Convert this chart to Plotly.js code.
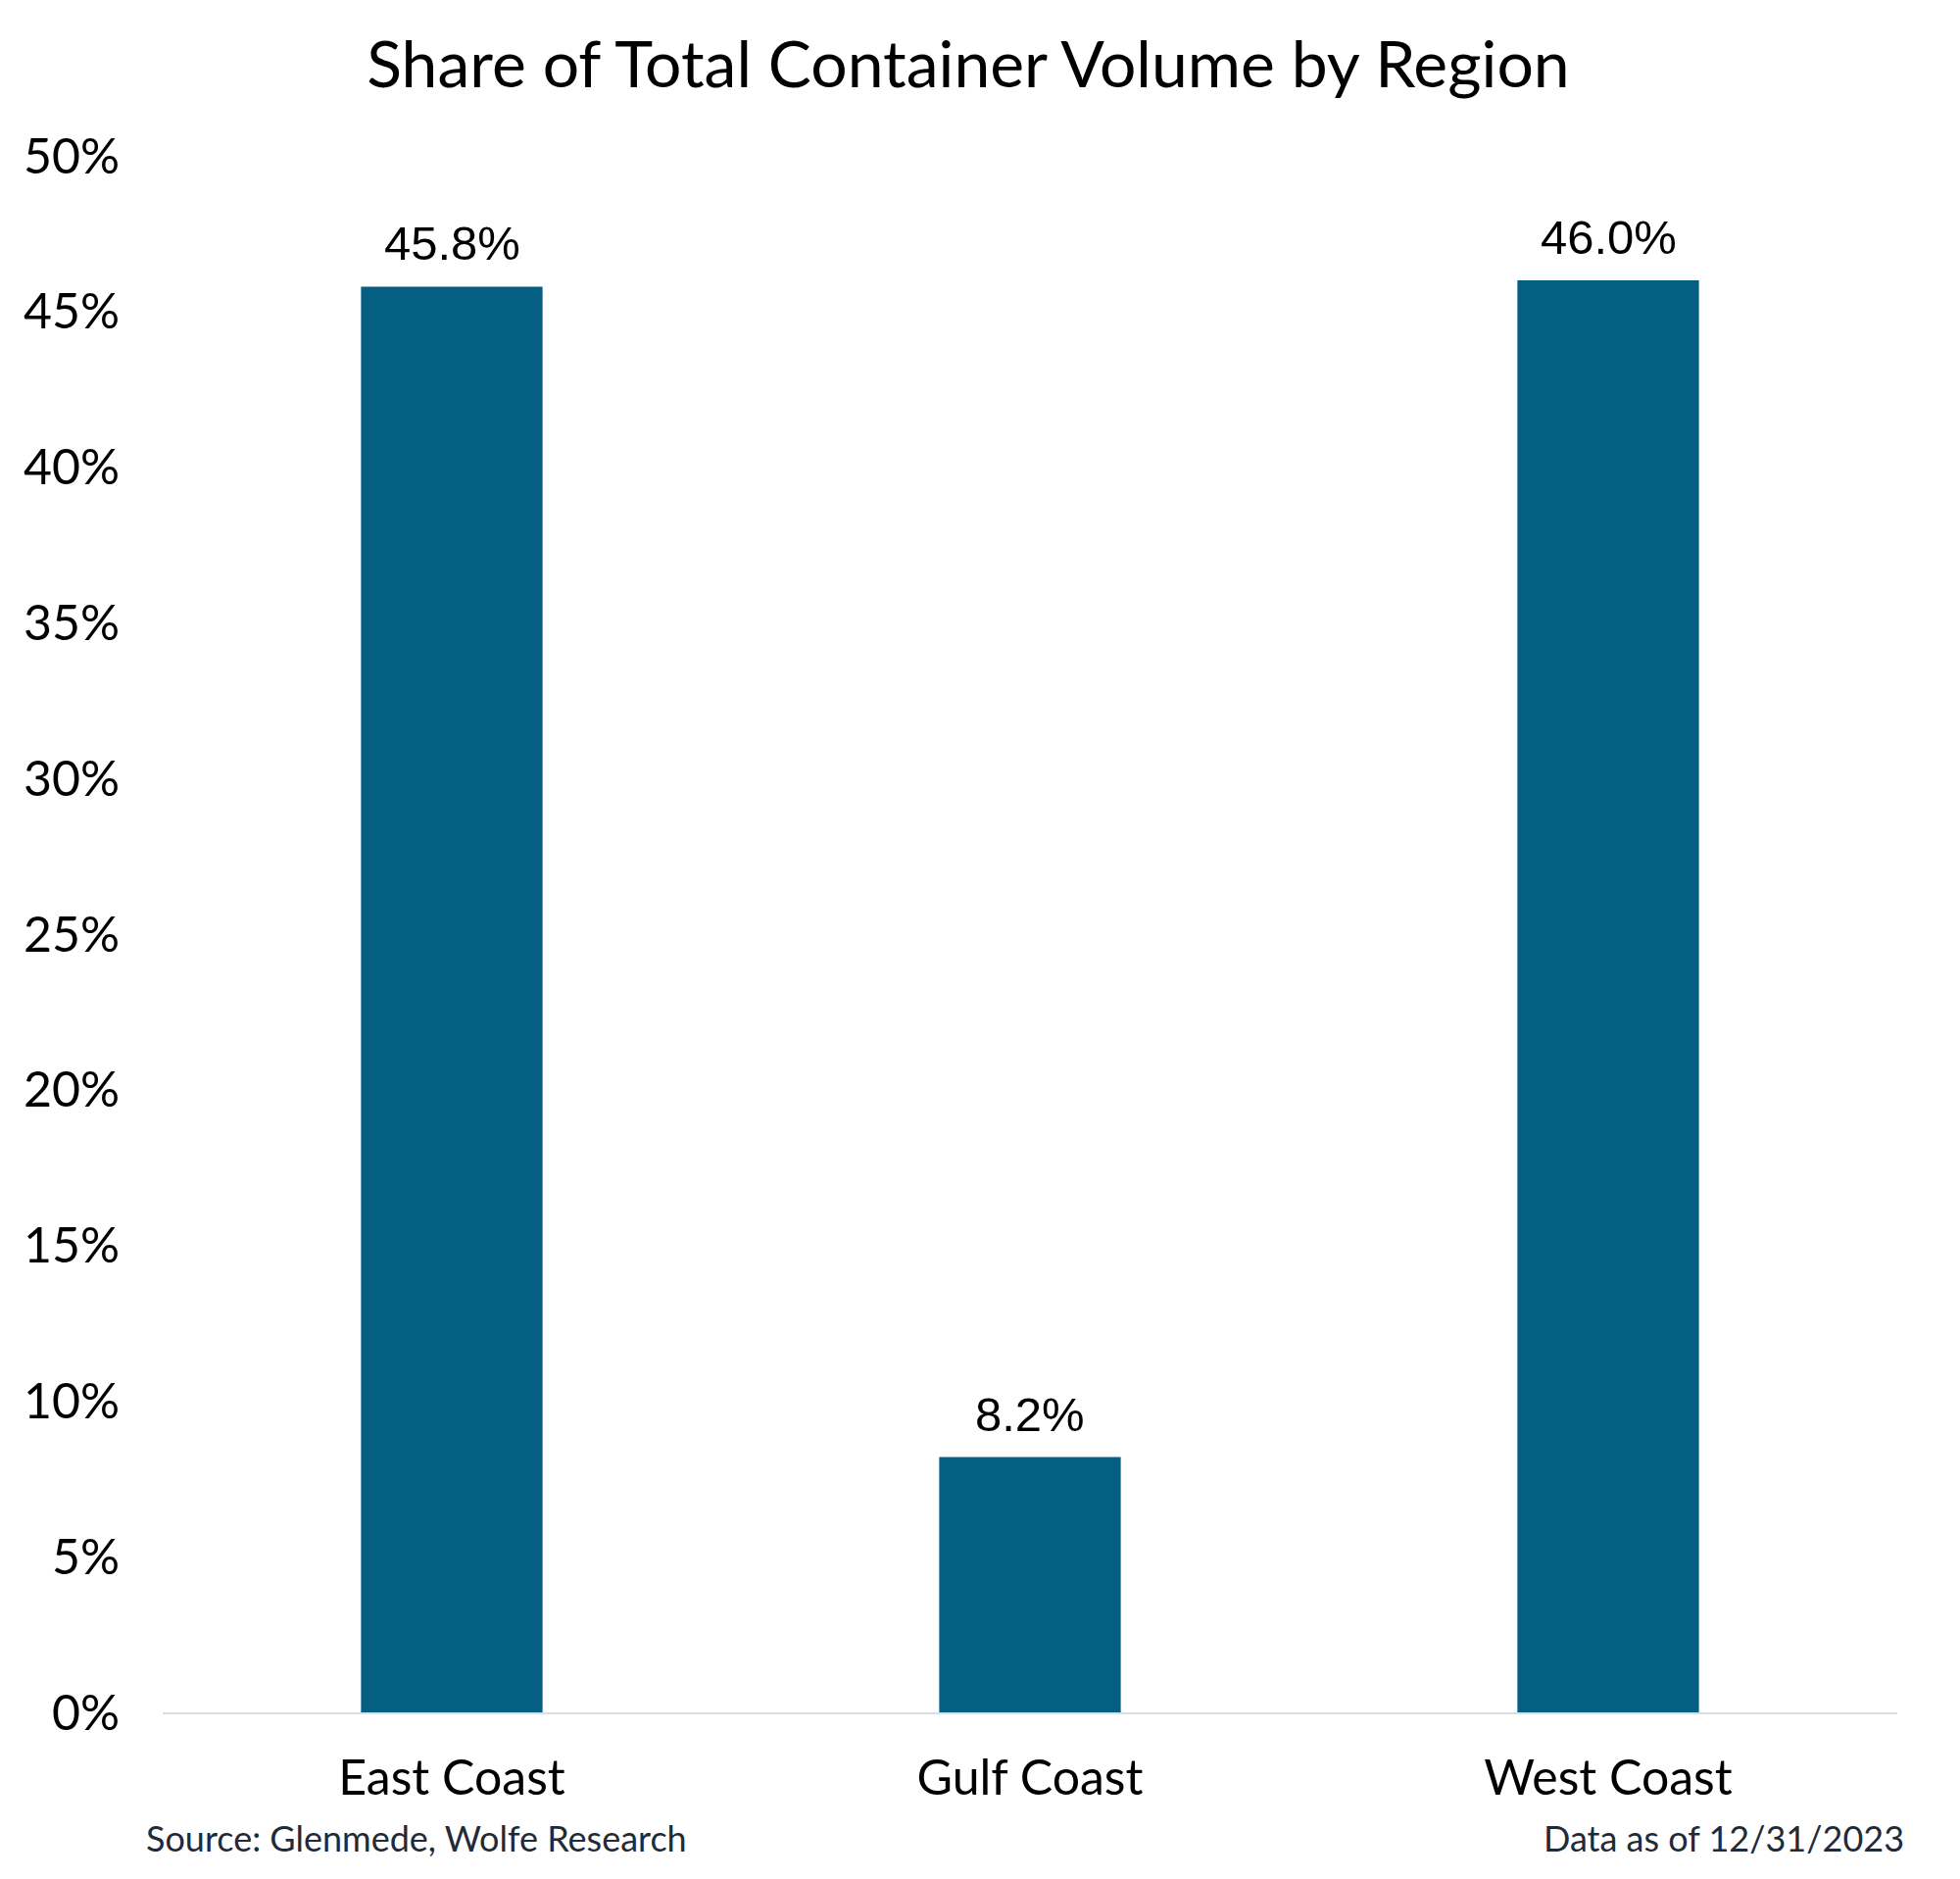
<!DOCTYPE html>
<html>
<head>
<meta charset="utf-8">
<script src="https://cdn.plot.ly/plotly-3.0.1.min.js"></script>
<style>
  html, body { margin: 0; padding: 0; background: #ffffff; }
  #chart { width: 2000px; height: 1917px; }
</style>
</head>
<body>
<div id="chart"></div>
<script>
'use strict';

// Chart values
var regions = ['East Coast', 'Gulf Coast', 'West Coast'];
var shares = [45.8, 8.2, 46.0];
var shareLabels = ['45.8%', '8.2%', '46.0%'];
var yTicks = [0, 5, 10, 15, 20, 25, 30, 35, 40, 45, 50];

var barColor = '#055f82';

var data = [
    {
        x: regions,
        y: shares,
        type: 'bar',
        marker: {color: barColor},
        hoverinfo: 'skip'
    }
];

// Value labels sit above each bar
var annotations = regions.map(function (r, i) {
    return {
        x: r,
        y: shares[i],
        xref: 'x',
        yref: 'y',
        text: shareLabels[i],
        showarrow: false,
        yanchor: 'bottom',
        yshift: 15,
        font: {family: 'Liberation Sans, Arial, sans-serif', size: 49, color: '#000000'}
    };
});

// Footer notes
annotations.push({
    xref: 'paper', yref: 'paper',
    x: -0.0107, y: -0.0806,
    xanchor: 'left', yanchor: 'middle',
    text: 'Source: Glenmede, Wolfe Research',
    showarrow: false,
    font: {family: 'Lato, sans-serif', size: 36, color: '#1f2b38'}
});
annotations.push({
    xref: 'paper', yref: 'paper',
    x: 1.005, y: -0.0806,
    xanchor: 'right', yanchor: 'middle',
    text: 'Data as of 12/31/2023',
    showarrow: false,
    font: {family: 'Lato, sans-serif', size: 36, color: '#1f2b38'}
});

var layout = {
    width: 2000,
    height: 1917,
    paper_bgcolor: '#ffffff',
    plot_bgcolor: '#ffffff',
    showlegend: false,
    bargap: 0.686,
    margin: {l: 166, r: 64, t: 159, b: 170},
    title: {
        text: 'Share of Total Container Volume by Region',
        font: {family: 'Lato, sans-serif', size: 66, color: '#000000'},
        xref: 'container',
        yref: 'container',
        x: 0.494,
        xanchor: 'center',
        y: 1 - 66 / 1917,
        yanchor: 'middle'
    },
    xaxis: {
        type: 'category',
        showgrid: false,
        zeroline: false,
        showline: true,
        linecolor: '#d8dee6',
        linewidth: 2,
        ticks: '',
        ticklabelstandoff: 22,
        tickfont: {family: 'Lato, sans-serif', size: 50, color: '#000000'}
    },
    yaxis: {
        range: [0, 50],
        tickvals: yTicks,
        ticktext: yTicks.map(function (v) { return v + '%'; }),
        showgrid: false,
        zeroline: false,
        showline: false,
        ticks: '',
        ticklabelstandoff: 43,
        tickfont: {family: 'Lato, sans-serif', size: 50, color: '#000000'}
    },
    annotations: annotations
};

Plotly.newPlot('chart', data, layout, {displayModeBar: false, staticPlot: true});
</script>
</body>
</html>
